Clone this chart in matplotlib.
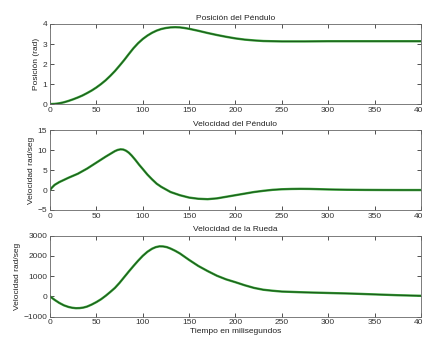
import matplotlib
matplotlib.use("Agg")
import matplotlib.pyplot as plt

# Data
t_pos = [0, 5, 10, 15, 20, 25, 30, 35, 40, 45, 50, 55, 60, 65, 70, 75, 80, 85, 90, 95, 100,
         105, 110, 115, 120, 125, 130, 135, 140, 145, 150, 160, 170, 180, 190, 200, 210, 220,
         230, 240, 250, 275, 300, 325, 350, 375, 400]
pos = [0, 0.01, 0.04, 0.09, 0.16, 0.24, 0.33, 0.43, 0.55, 0.68, 0.83, 1.0, 1.19, 1.41, 1.65,
       1.92, 2.2, 2.5, 2.79, 3.04, 3.25, 3.42, 3.56, 3.67, 3.75, 3.8, 3.83, 3.84, 3.83, 3.8,
       3.76, 3.66, 3.55, 3.45, 3.36, 3.28, 3.22, 3.18, 3.15, 3.14, 3.13, 3.13, 3.14, 3.14,
       3.14, 3.14, 3.14]

t_vp = [0, 2, 5, 10, 20, 30, 40, 50, 60, 65, 70, 73, 76, 79, 82, 85, 88, 92, 96, 100, 105,
        110, 115, 120, 130, 140, 150, 160, 170, 180, 190, 200, 210, 220, 230, 240, 250, 260,
        270, 280, 290, 300, 320, 340, 360, 380, 400]
vel_pend = [0, 0.6, 1.3, 2.0, 3.1, 4.1, 5.4, 6.9, 8.4, 9.1, 9.8, 10.1, 10.25, 10.2, 9.9, 9.4,
            8.7, 7.6, 6.4, 5.3, 3.9, 2.7, 1.6, 0.8, -0.5, -1.3, -1.9, -2.2, -2.3, -2.1, -1.7,
            -1.3, -0.9, -0.5, -0.2, 0.05, 0.2, 0.27, 0.3, 0.28, 0.22, 0.15, 0.07, 0.03, 0.01,
            0.0, 0.0]

t_vr = [0, 5, 10, 15, 20, 24, 28, 32, 36, 40, 45, 50, 55, 60, 65, 70, 75, 80, 85, 90, 95, 100,
        105, 110, 114, 118, 122, 126, 130, 135, 140, 145, 150, 160, 170, 180, 190, 200, 210,
        220, 230, 240, 250, 275, 300, 325, 350, 375, 400]
vel_rueda = [0, -170, -320, -440, -520, -560, -580, -575, -550, -500, -400, -280, -140, 30,
             220, 420, 670, 950, 1230, 1500, 1760, 2000, 2200, 2350, 2430, 2470, 2465, 2430,
             2360, 2250, 2120, 1960, 1800, 1500, 1250, 1020, 840, 700, 550, 420, 330, 280, 240,
             200, 170, 140, 100, 60, 30]

titles = ["Posición del Péndulo", "Velocidad del Péndulo", "Velocidad de la Rueda"]
ylabels = ["Posición (rad)", "Velocidad rad/seg", "Velocidad rad/seg"]
yticks = [[0, 1, 2, 3, 4], [-5, 0, 5, 10, 15], [-1000, 0, 1000, 2000, 3000]]
xticks = [0, 50, 100, 150, 200, 250, 300, 350, 400]
xlabel = "Tiempo en milisegundos"

plt.rcParams['font.family'] = ['Liberation Sans', 'DejaVu Sans']
fs = 6

fig = plt.figure(figsize=(4.22, 3.38), dpi=100)
rects = [[0.1185, 0.692, 0.879, 0.237],
         [0.1185, 0.379, 0.879, 0.235],
         [0.1185, 0.063, 0.879, 0.240]]
series = [(t_pos, pos), (t_vp, vel_pend), (t_vr, vel_rueda)]

for i, (r, (tx, ty)) in enumerate(zip(rects, series)):
    ax = fig.add_axes(r)
    ax.plot(tx, ty, color='#3aa53a', lw=1.7, solid_joinstyle='round', solid_capstyle='round')
    ax.plot(tx, ty, color='#1b5a1b', lw=0.8, solid_joinstyle='round')
    ax.set_xlim(0, 400)
    ax.set_ylim(yticks[i][0], yticks[i][-1])
    ax.set_xticks(xticks)
    ax.set_yticks(yticks[i])
    ax.tick_params(direction='in', top=True, right=True, length=3, width=0.6,
                   labelsize=fs, pad=2, colors='#333333')
    for s in ax.spines.values():
        s.set_linewidth(0.6)
        s.set_color('#666666')
    ax.set_title(titles[i], fontsize=fs, pad=3, color='#222222')
    ax.set_ylabel(ylabels[i], fontsize=fs, labelpad=2, color='#222222')
    if i == 2:
        ax.set_xlabel(xlabel, fontsize=fs, labelpad=1, color='#222222')

fig.savefig("out.png", dpi=100)
